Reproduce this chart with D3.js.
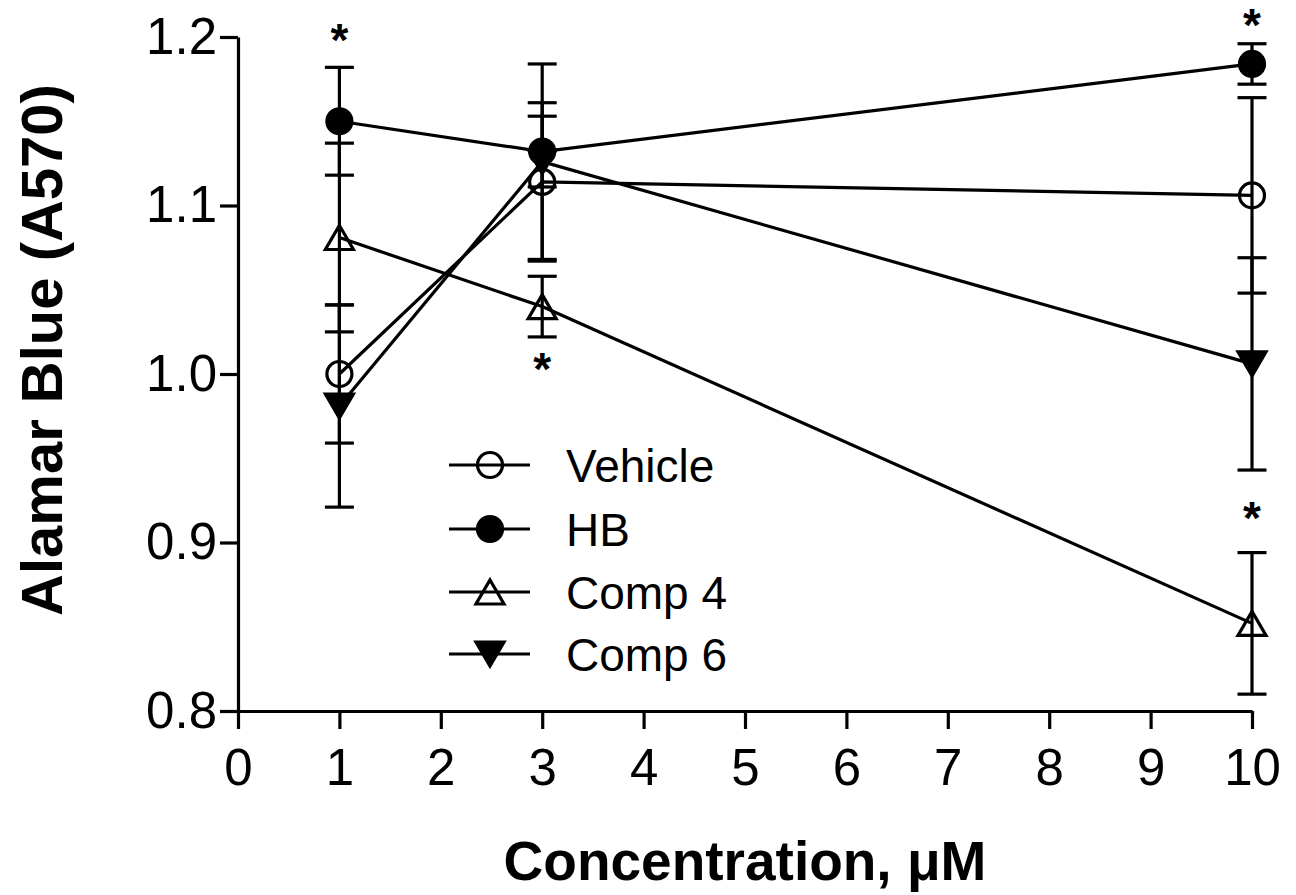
<!DOCTYPE html>
<html>
<head>
<meta charset="UTF-8">
<script src="https://cdn.jsdelivr.net/npm/d3@7"></script>
<style>
  body { margin: 0; background: #fff; }
  svg { display: block; }
  text { font-family: "Liberation Sans", Arial, Helvetica, sans-serif; fill: #000; }
</style>
</head>
<body>
<svg id="chart" width="1296" height="895"></svg>
<script>

// ---- data ----
const conc = [1, 3, 10];
const vehicle     = [1.000, 1.114, 1.106];
const vehicle_err = [0.041, 0.047, 0.058];
const hb          = [1.150, 1.132, 1.184];
const hb_err      = [0.032, 0.021, 0.012];
const comp4       = [1.081, 1.040, 0.852];
const comp4_err   = [0.056, 0.018, 0.042];
const comp6       = [0.981, 1.126, 1.006];
const comp6_err   = [0.060, 0.058, 0.063];

const series_names = ["Vehicle", "HB", "Comp 4", "Comp 6"];
const series_marks = ["circle-open", "circle-filled", "tri-up-open", "tri-down-filled"];

// significance stars: x, value where the star sits
const star_x   = [1, 3, 10, 10];
const star_val = [1.201, 1.006, 1.210, 0.9175];

const x_ticks = [0, 1, 2, 3, 4, 5, 6, 7, 8, 9, 10];
const y_ticks = [0.8, 0.9, 1.0, 1.1, 1.2];

// ---- layout ----
const svg = d3.select("#chart");
const x = d3.scaleLinear([0, 10], [238, 1252]);
const y = d3.scaleLinear([0.8, 1.2], [711, 37]);
const lw = 3.2;

const table = [
  { name: series_names[0], mark: series_marks[0], v: vehicle, e: vehicle_err },
  { name: series_names[1], mark: series_marks[1], v: hb,      e: hb_err },
  { name: series_names[2], mark: series_marks[2], v: comp4,   e: comp4_err },
  { name: series_names[3], mark: series_marks[3], v: comp6,   e: comp6_err },
];

// marker drawing (centered on 0,0)
function marker(g, kind) {
  const r = 12.5, tw = 14, th = 12;
  if (kind.startsWith("circle")) {
    g.append("circle").attr("r", r);
  } else if (kind.startsWith("tri-up")) {
    g.append("path").attr("d", `M0,${-th}L${tw},${th}L${-tw},${th}Z`);
  } else {
    g.append("path").attr("d", `M0,${th}L${tw},${-th}L${-tw},${-th}Z`);
  }
  g.selectAll("circle,path")
    .attr("fill", kind.endsWith("filled") ? "#000" : "none")
    .attr("stroke", "#000")
    .attr("stroke-width", lw)
    .attr("stroke-linejoin", "miter");
}

// ---- axes ----
const ax_y = svg.append("g").attr("transform", `translate(${x(0)},0)`)
  .call(d3.axisLeft(y).tickValues(y_ticks).tickFormat(d3.format(".1f"))
        .tickSize(18).tickSizeOuter(0).tickPadding(3));
const ax_x = svg.append("g").attr("transform", `translate(0,${y(0.8)})`)
  .call(d3.axisBottom(x).tickValues(x_ticks).tickFormat(d3.format("d"))
        .tickSize(18).tickSizeOuter(0).tickPadding(20));
[ax_y, ax_x].forEach(a => {
  a.select(".domain").attr("stroke", "#000").attr("stroke-width", lw);
  a.selectAll(".tick line").attr("stroke", "#000").attr("stroke-width", lw);
  a.selectAll(".tick text").attr("font-size", 51).attr("fill", "#000")
    .attr("font-family", "'Liberation Sans', Arial, sans-serif");
});

// axis titles
svg.append("text")
  .attr("transform", `translate(62,350) rotate(-90)`)
  .attr("text-anchor", "middle")
  .attr("font-size", 58).attr("font-weight", "bold")
  .text("Alamar Blue (A570)");
svg.append("text")
  .attr("x", 745).attr("y", 880)
  .attr("text-anchor", "middle")
  .attr("font-size", 55).attr("font-weight", "bold")
  .text("Concentration, μM");

// ---- lines ----
const line = d3.line().x((d, i) => x(conc[i])).y(d => y(d));
svg.append("g").selectAll("path").data(table).join("path")
  .attr("d", s => line(s.v))
  .attr("fill", "none").attr("stroke", "#000").attr("stroke-width", lw);

// ---- error bars ----
const cap = 14.5;
table.forEach(s => {
  const g = svg.append("g").attr("stroke", "#000").attr("stroke-width", lw);
  s.v.forEach((v, i) => {
    const cx = x(conc[i]), hi = y(v + s.e[i]), lo = y(v - s.e[i]);
    g.append("line").attr("x1", cx).attr("x2", cx).attr("y1", hi).attr("y2", lo);
    g.append("line").attr("x1", cx - cap).attr("x2", cx + cap).attr("y1", hi).attr("y2", hi);
    g.append("line").attr("x1", cx - cap).attr("x2", cx + cap).attr("y1", lo).attr("y2", lo);
  });
});

// ---- markers (last series first, so Vehicle / HB sit on top) ----
table.slice().reverse().forEach(s => {
  s.v.forEach((v, i) => {
    const g = svg.append("g").attr("transform", `translate(${x(conc[i])},${y(v)})`);
    marker(g, s.mark);
  });
});

// ---- stars ----
const star_fs = 46;
svg.append("g").selectAll("text").data(star_x).join("text")
  .attr("x", d => x(d))
  .attr("y", (d, i) => y(star_val[i]) + 0.45 * star_fs)
  .attr("text-anchor", "middle")
  .attr("font-size", star_fs).attr("font-weight", "bold")
  .text("*");

// ---- legend ----
const leg_y = [465, 529, 592, 654];
const leg = svg.append("g");
table.forEach((s, i) => {
  const g = leg.append("g").attr("transform", `translate(0,${leg_y[i]})`);
  g.append("line").attr("x1", 449).attr("x2", 530).attr("y1", 0).attr("y2", 0)
    .attr("stroke", "#000").attr("stroke-width", lw);
  marker(g.append("g").attr("transform", "translate(490,0)"), s.mark);
  g.append("text").attr("x", 566).attr("y", 17)
    .attr("font-size", 46).text(s.name);
});

</script>
</body>
</html>
